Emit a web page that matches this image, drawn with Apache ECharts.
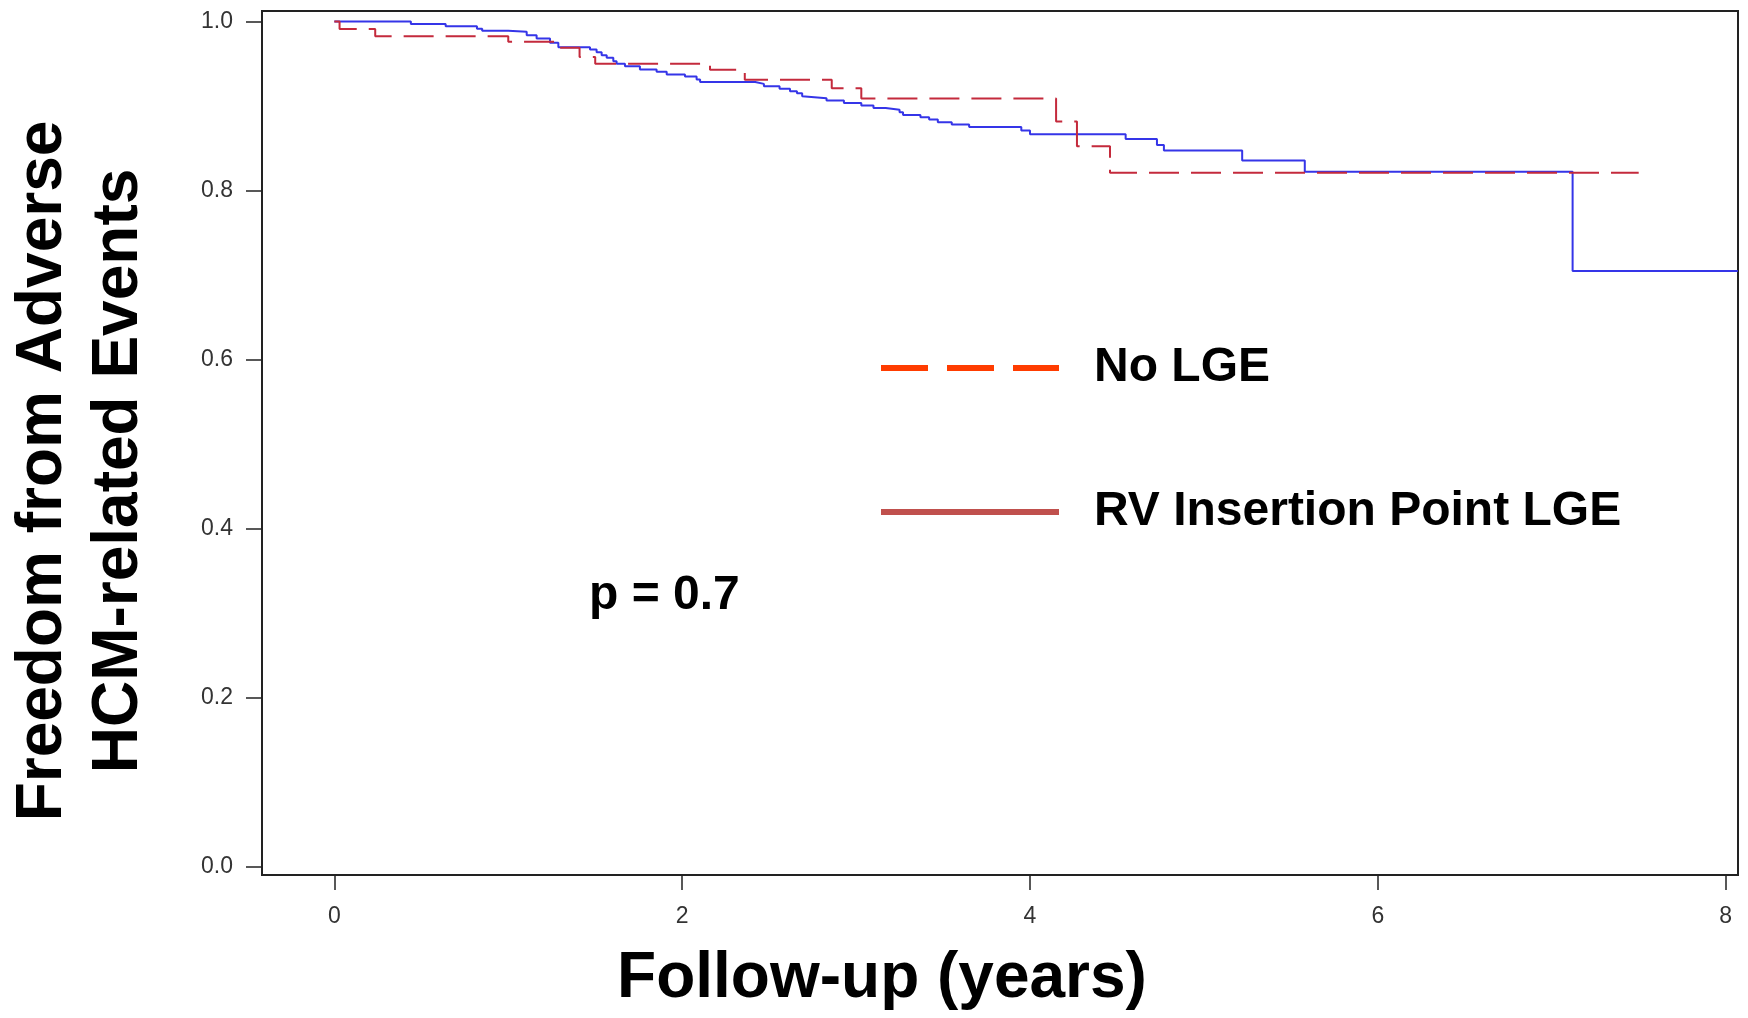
<!DOCTYPE html>
<html><head><meta charset="utf-8">
<script src="https://cdn.jsdelivr.net/npm/echarts@6/dist/echarts.min.js"></script>
<style>html,body{margin:0;padding:0;background:#fff}#c{width:1748px;height:1018px}</style>
</head><body><div id="c"></div>
<script>
const xTicks = [0, 2, 4, 6, 8];
const yTicks = [0, 0.2, 0.4, 0.6, 0.8, 1.0];
const seriesNames = ['No LGE', 'RV Insertion Point LGE'];
const rvTimes = [0, 0.44, 0.64, 0.82, 0.85, 1.0, 1.106, 1.163, 1.24, 1.288, 1.47, 1.508, 1.537, 1.566, 1.604, 1.623, 1.671, 1.757, 1.853, 1.911, 2.016, 2.083, 2.103, 2.42, 2.47, 2.56, 2.62, 2.66, 2.69, 2.70, 2.83, 2.93, 3.03, 3.10, 3.17, 3.25, 3.27, 3.37, 3.42, 3.47, 3.55, 3.65, 3.95, 4.00, 4.55, 4.73, 4.77, 5.22, 5.58, 7.12, 8.07];
const rvSurv = [1.0, 0.997, 0.9945, 0.9914, 0.989, 0.9878, 0.9838, 0.9799, 0.9747, 0.9695, 0.9669, 0.9637, 0.9602, 0.957, 0.9531, 0.950, 0.9471, 0.9432, 0.9405, 0.9373, 0.9349, 0.9314, 0.9285, 0.9262, 0.9235, 0.9203, 0.9176, 0.9152, 0.9116, 0.9093, 0.9065, 0.9037, 0.9006, 0.8978, 0.8955, 0.8927, 0.8895, 0.8868, 0.8840, 0.8809, 0.8781, 0.8753, 0.8710, 0.8666, 0.8611, 0.854, 0.8473, 0.8355, 0.8224, 0.705, 0.705];
const noLgeTimes = [0, 0.03, 0.235, 1.0, 1.27, 1.41, 1.50, 2.16, 2.36, 2.86, 3.03, 4.15, 4.27, 4.46, 7.50];
const noLgeSurv = [1.0, 0.991, 0.9826, 0.976, 0.969, 0.958, 0.950, 0.943, 0.931, 0.921, 0.909, 0.8816, 0.8525, 0.821, 0.821];
const pValueText = 'p = 0.7';
const xTitle = 'Follow-up (years)';
const yTitle = 'Freedom from Adverse\nHCM-related Events';

const font = '"Liberation Sans", Arial, Helvetica, sans-serif';
const chart = echarts.init(document.getElementById('c'), null, {renderer: 'canvas'});
const pairs = (ts, vs) => ts.map((t, i) => [t, vs[i]]);
const hidden = {color: 'rgba(0,0,0,0)', borderColor: 'rgba(0,0,0,0)', borderWidth: 0, opacity: 0};
chart.setOption({
  animation: false,
  backgroundColor: '#fff',
  grid: {left: 262, right: 10, top: 11, bottom: 143, show: true, borderColor: '#222', borderWidth: 2, containLabel: false, outerBoundsMode: 'none'},
  title: {text: pValueText, left: 589, top: 572, padding: 0,
    textStyle: {fontSize: 48, fontWeight: 'bold', color: '#000', fontFamily: font}},
  legend: {orient: 'vertical', left: 878, top: 344, padding: 0, itemWidth: 178, itemHeight: 14, itemGap: 96,
    selectedMode: false,
    textStyle: {fontSize: 48, fontWeight: 'bold', color: '#000', fontFamily: font, padding: [0, 0, 0, 30]},
    data: [
      {name: seriesNames[0], lineStyle: {color: '#ff3c00', width: 6, type: [47, 19]}, itemStyle: hidden},
      {name: seriesNames[1], lineStyle: {color: '#c0504d', width: 6, type: 'solid'}, itemStyle: hidden}
    ]},
  xAxis: {type: 'value', min: -0.416, max: 8.071,
    axisLine: {show: true, onZero: false, lineStyle: {color: '#222', width: 2}},
    axisTick: {show: true, length: 15, customValues: xTicks, lineStyle: {color: '#222', width: 1.5}},
    axisLabel: {customValues: xTicks, margin: 30, fontSize: 23, color: '#333', fontFamily: font},
    splitLine: {show: false},
    name: xTitle, nameLocation: 'middle', nameGap: 72,
    nameTextStyle: {fontSize: 64, fontWeight: 'bold', color: '#000', fontFamily: font, padding: [0, 236, 0, 0]}},
  yAxis: {type: 'value', min: -0.0095, max: 1.0124,
    axisLine: {show: true, onZero: false, lineStyle: {color: '#222', width: 2}},
    axisTick: {show: true, length: 16, customValues: yTicks, lineStyle: {color: '#222', width: 1.5}},
    axisLabel: {customValues: yTicks, margin: 29, fontSize: 23, color: '#333', fontFamily: font, formatter: v => v.toFixed(1)},
    splitLine: {show: false},
    name: yTitle, nameLocation: 'middle', nameGap: 105, nameRotate: 90,
    nameTextStyle: {fontSize: 64, lineHeight: 76, fontWeight: 'bold', color: '#000', fontFamily: font, align: 'center', padding: [0, 56, 0, 0]}},
  series: [
    {type: 'line', name: seriesNames[1], step: 'end', symbol: 'none', z: 2,
      data: pairs(rvTimes, rvSurv), lineStyle: {color: '#3535e8', width: 2}, itemStyle: {color: '#3535e8'}},
    {type: 'line', name: seriesNames[0], step: 'end', symbol: 'none', z: 3,
      data: pairs(noLgeTimes, noLgeSurv), lineStyle: {color: '#c42a3c', width: 2, type: [30, 12]}, itemStyle: {color: '#c42a3c'}}
  ]
});
</script></body></html>
